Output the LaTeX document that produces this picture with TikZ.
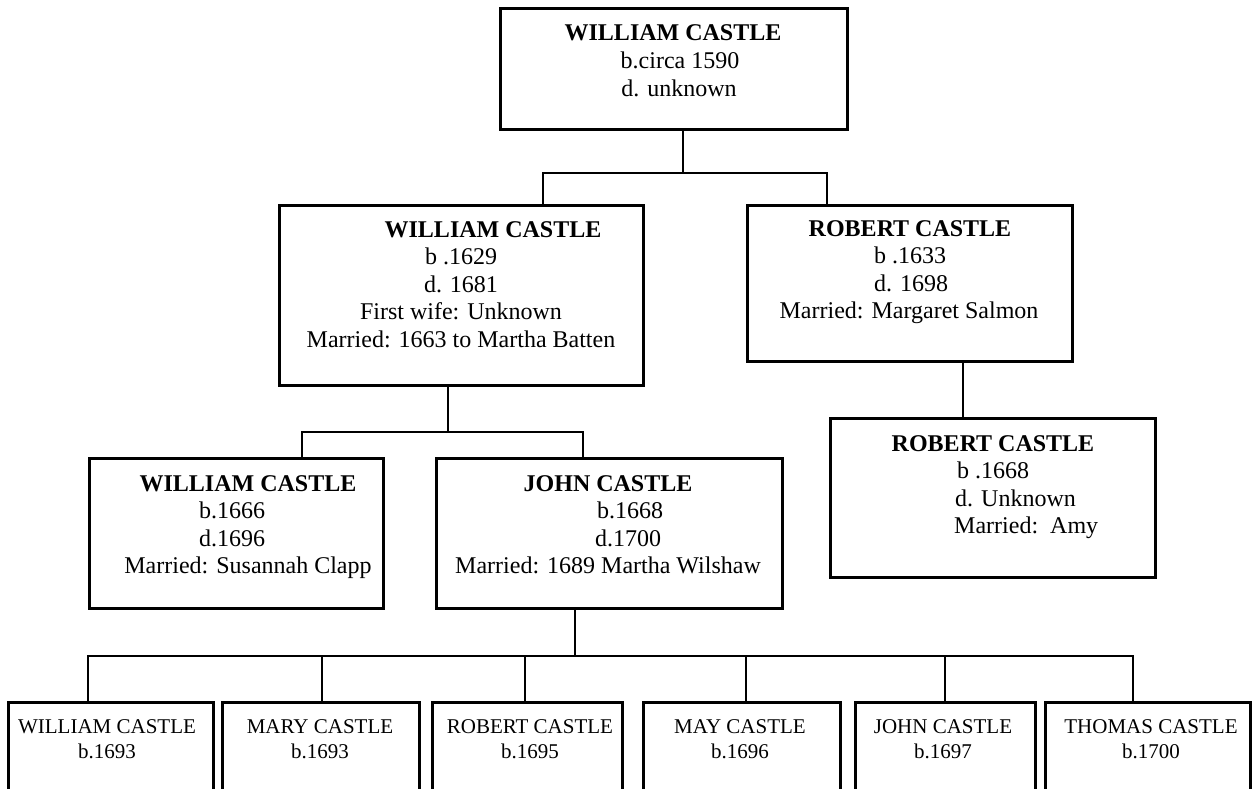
\documentclass[tikz,border=0pt]{standalone}
\usepackage{fontspec}
\setmainfont{Liberation Serif}
\begin{document}
\begin{tikzpicture}[x=1pt,y=-1pt,
  box/.style={draw, line width=3pt, inner sep=0pt, outer sep=0pt},
  conn/.style={line width=1.8pt},
  tx/.style={anchor=base, inner sep=0pt, font=\fontsize{24}{27.6}\selectfont},
  tb/.style={anchor=base, inner sep=0pt, font=\fontsize{24}{27.6}\selectfont\bfseries},
  ts/.style={anchor=base, inner sep=0pt, font=\fontsize{21}{25}\selectfont}]
\clip (0,0) rectangle (1252,789);
\fill[white] (0,0) rectangle (1252,789);

% boxes
\node[box, minimum width=347pt, minimum height=121pt] (T) at (673.5,69.5) {};
\node[box, minimum width=364pt, minimum height=180pt] (WM) at (461,295) {};
\node[box, minimum width=325pt, minimum height=156pt] (RB) at (909.5,283) {};
\node[box, minimum width=325pt, minimum height=159pt] (RC) at (992.5,497.5) {};
\node[box, minimum width=294pt, minimum height=150pt] (WC) at (236,533) {};
\node[box, minimum width=346pt, minimum height=150pt] (JC) at (609,533) {};
\node[box, minimum width=205pt, minimum height=120pt] (B1) at (110.5,762) {};
\node[box, minimum width=197pt, minimum height=120pt] (B2) at (320.5,762) {};
\node[box, minimum width=190pt, minimum height=120pt] (B3) at (527,762) {};
\node[box, minimum width=197pt, minimum height=120pt] (B4) at (741.5,762) {};
\node[box, minimum width=180pt, minimum height=120pt] (B5) at (945,762) {};
\node[box, minimum width=205pt, minimum height=120pt] (B6) at (1147.5,762) {};

% texts: top
\node[tb] (T1) at (673,41) {WILLIAM CASTLE};
\node[tx] (T2) at (680,68.6) {b.circa 1590};
\node[tx] (T3) at (679,96.2) {d. unknown};
% middle William
\node[tb] (WM1) at (493,237) {WILLIAM CASTLE};
\node[tx] (WM2) at (461,264.6) {b .1629};
\node[tx] (WM3) at (461,292.2) {d. 1681};
\node[tx] (WM4) at (461,319.8) {First wife: Unknown};
\node[tx] (WM5) at (461,347.4) {Married: 1663 to Martha Batten};
% Robert
\node[tb] (RB1) at (910,236) {ROBERT CASTLE};
\node[tx] (RB2) at (910,263.6) {b .1633};
\node[tx] (RB3) at (911,291.2) {d. 1698};
\node[tx] (RB4) at (909,318.8) {Married: Margaret Salmon};
% Robert child
\node[tb] (RC1) at (993,451) {ROBERT CASTLE};
\node[tx, anchor=base west] (RC2) at (957,478.6) {b .1668};
\node[tx, anchor=base west] (RC3) at (955,506.2) {d. Unknown};
\node[tx, anchor=base west] (RC4) at (954,533.8) {Married:\ \ Amy};
% William child
\node[tb] (WC1) at (248,491) {WILLIAM CASTLE};
\node[tx, anchor=base west] (WC2) at (199,518.6) {b.1666};
\node[tx, anchor=base west] (WC3) at (199,546.2) {d.1696};
\node[tx] (WC4) at (248,573.8) {Married: Susannah Clapp};
% John
\node[tb] (JC1) at (608,491) {JOHN CASTLE};
\node[tx] (JC2) at (630,518.6) {b.1668};
\node[tx] (JC3) at (628,546.2) {d.1700};
\node[tx] (JC4) at (608,573.8) {Married: 1689 Martha Wilshaw};
% bottom row
\node[ts] (B1a) at (107,733) {WILLIAM CASTLE};
\node[ts] (B1b) at (107,758) {b.1693};
\node[ts] (B2a) at (320,733) {MARY CASTLE};
\node[ts] (B2b) at (320,758) {b.1693};
\node[ts] (B3a) at (530,733) {ROBERT CASTLE};
\node[ts] (B3b) at (530,758) {b.1695};
\node[ts] (B4a) at (740,733) {MAY CASTLE};
\node[ts] (B4b) at (740,758) {b.1696};
\node[ts] (B5a) at (943,733) {JOHN CASTLE};
\node[ts] (B5b) at (943,758) {b.1697};
\node[ts] (B6a) at (1151,733) {THOMAS CASTLE};
\node[ts] (B6b) at (1151,758) {b.1700};

% connectors
\coordinate (a1) at (683,173);
\coordinate (a1l) at (543,173);
\coordinate (a1r) at (827,173);
\draw[conn] (T.south -| a1) -- (a1);
\draw[conn] (WM.north -| a1l) -- (a1l) -- (a1r) -- (RB.north -| a1r);

\coordinate (a2) at (448,432);
\coordinate (a2l) at (302,432);
\coordinate (a2r) at (583,432);
\draw[conn] (WM.south -| a2) -- (a2);
\draw[conn] (WC.north -| a2l) -- (a2l) -- (a2r) -- (JC.north -| a2r);

\coordinate (a3) at (963,390);
\draw[conn] (RB.south -| a3) -- (RC.north -| a3);

\coordinate (a4) at (575,656);
\coordinate (a4l) at (88,656);
\coordinate (a4r) at (1133,656);
\coordinate (k2) at (322,656);
\coordinate (k3) at (525,656);
\coordinate (k4) at (746,656);
\coordinate (k5) at (945,656);
\draw[conn] (JC.south -| a4) -- (a4);
\draw[conn] (B1.north -| a4l) -- (a4l) -- (a4r) -- (B6.north -| a4r);
\draw[conn] (k2) -- (B2.north -| k2);
\draw[conn] (k3) -- (B3.north -| k3);
\draw[conn] (k4) -- (B4.north -| k4);
\draw[conn] (k5) -- (B5.north -| k5);
\end{tikzpicture}
\end{document}
